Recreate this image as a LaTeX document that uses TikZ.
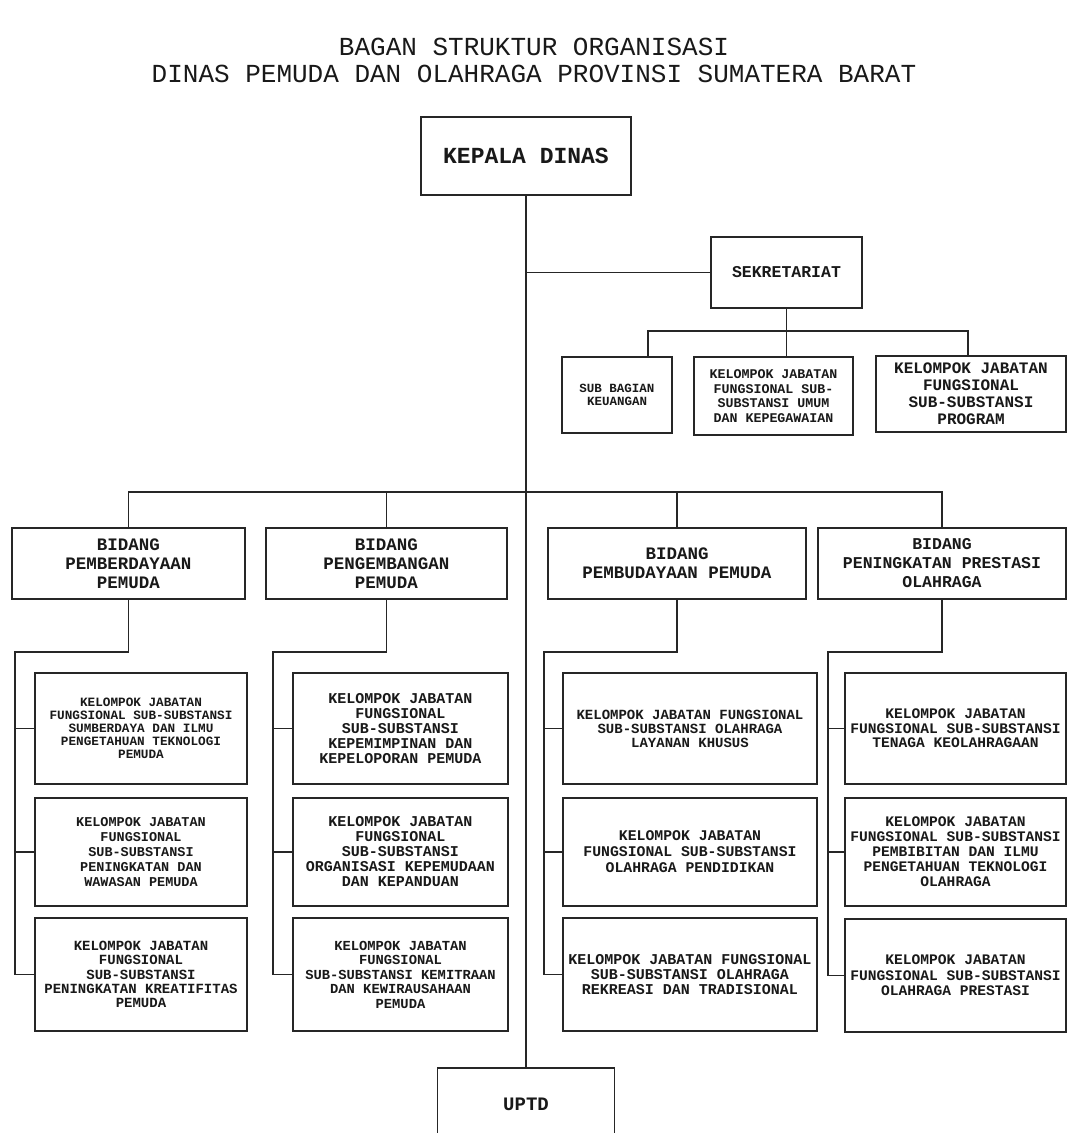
\documentclass[tikz,border=0pt]{standalone}
\usepackage{fontspec}
\setmainfont{Liberation Mono}
\newcommand\fz[2]{\fontsize{#1}{#2}\selectfont}
\newcommand\obox[6]{\node[box, minimum width=#3, minimum height=#4, font={#5\bfseries}] (#1) at (#2) {#6};}
\begin{document}
\begin{tikzpicture}[x=1pt,y=-1pt,
  box/.style={draw=black!85, line width=1.8pt, align=center, inner sep=0pt, text=black!90},
  wire/.style={draw=black!85, line width=1.8pt},
  ttl/.style={font={\fz{26}{28}}, text=black!90, inner sep=0pt}]
\path[use as bounding box, fill=white] (0,0) rectangle (1068,1133);
% title
\node[ttl] (t1) at (534,47) {BAGAN STRUKTUR ORGANISASI};
\node[ttl] (t2) at (534,74) {DINAS PEMUDA DAN OLAHRAGA PROVINSI SUMATERA BARAT};
% top
\obox{kepala}{526,156}{210}{78}{\fz{23}{25}}{KEPALA DINAS}
\obox{sek}{786.5,272.5}{151}{71}{\fz{16.5}{18}}{SEKRETARIAT}
\obox{keu}{617,395}{110}{76}{\fz{12.5}{13.5}}{SUB BAGIAN\\KEUANGAN}
\obox{umum}{773.5,396}{159}{78}{\fz{13.3}{14.5}}{KELOMPOK JABATAN\\FUNGSIONAL SUB-\\SUBSTANSI UMUM\\DAN KEPEGAWAIAN}
\obox{prog}{971,394}{190}{76}{\fz{16}{17}}{KELOMPOK JABATAN\\FUNGSIONAL\\SUB-SUBSTANSI\\PROGRAM}
% bidang
\obox{bd1}{128.5,563.5}{233}{71}{\fz{17.5}{19}}{BIDANG\\PEMBERDAYAAN\\PEMUDA}
\obox{bd2}{386.5,563.5}{241}{71}{\fz{17.5}{19}}{BIDANG\\PENGEMBANGAN\\PEMUDA}
\obox{bd3}{677,563.5}{258}{71}{\fz{17.5}{19}}{BIDANG\\PEMBUDAYAAN PEMUDA}
\obox{bd4}{942,563.5}{248}{71}{\fz{16.5}{19}}{BIDANG\\PENINGKATAN PRESTASI\\OLAHRAGA}
% column 1
\obox{c11}{141,728.5}{212}{111}{\fz{12.7}{13}}{KELOMPOK JABATAN\\FUNGSIONAL SUB-SUBSTANSI\\SUMBERDAYA DAN ILMU\\PENGETAHUAN TEKNOLOGI\\PEMUDA}
\obox{c12}{141,852}{212}{108}{\fz{13.5}{15}}{KELOMPOK JABATAN\\FUNGSIONAL\\SUB-SUBSTANSI\\PENINGKATAN DAN\\WAWASAN PEMUDA}
\obox{c13}{141,974.5}{212}{113}{\fz{14}{14.3}}{KELOMPOK JABATAN\\FUNGSIONAL\\SUB-SUBSTANSI\\PENINGKATAN KREATIFITAS\\PEMUDA}
% column 2
\obox{c21}{400.5,728.5}{215}{111}{\fz{15}{14.8}}{KELOMPOK JABATAN\\FUNGSIONAL\\SUB-SUBSTANSI\\KEPEMIMPINAN DAN\\KEPELOPORAN PEMUDA}
\obox{c22}{400.5,852}{215}{108}{\fz{15}{15}}{KELOMPOK JABATAN\\FUNGSIONAL\\SUB-SUBSTANSI\\ORGANISASI KEPEMUDAAN\\DAN KEPANDUAN}
\obox{c23}{400.5,974.5}{215}{113}{\fz{13.8}{14.5}}{KELOMPOK JABATAN\\FUNGSIONAL\\SUB-SUBSTANSI KEMITRAAN\\DAN KEWIRAUSAHAAN\\PEMUDA}
% column 3
\obox{c31}{690,728.5}{254}{111}{\fz{14}{14}}{KELOMPOK JABATAN FUNGSIONAL\\SUB-SUBSTANSI OLAHRAGA\\LAYANAN KHUSUS}
\obox{c32}{690,852}{254}{108}{\fz{14.8}{16}}{KELOMPOK JABATAN\\FUNGSIONAL SUB-SUBSTANSI\\OLAHRAGA PENDIDIKAN}
\obox{c33}{690,974.5}{254}{113}{\fz{15}{14.8}}{KELOMPOK JABATAN FUNGSIONAL\\SUB-SUBSTANSI OLAHRAGA\\REKREASI DAN TRADISIONAL}
% column 4
\obox{c41}{955.5,728.5}{221}{111}{\fz{14.6}{14.5}}{KELOMPOK JABATAN\\FUNGSIONAL SUB-SUBSTANSI\\TENAGA KEOLAHRAGAAN}
\obox{c42}{955.5,852}{221}{108}{\fz{14.6}{15}}{KELOMPOK JABATAN\\FUNGSIONAL SUB-SUBSTANSI\\PEMBIBITAN DAN ILMU\\PENGETAHUAN TEKNOLOGI\\OLAHRAGA}
\obox{c43}{955.5,975.5}{221}{113}{\fz{14.6}{15.5}}{KELOMPOK JABATAN\\FUNGSIONAL SUB-SUBSTANSI\\OLAHRAGA PRESTASI}
% uptd
\obox{uptd}{526,1104}{177}{72}{\fz{19}{20}}{UPTD}
% connectors
\draw[wire] (kepala.south) -- (uptd.north);
\draw[wire] (sek.west) -- (sek.west -| kepala.south);
\coordinate (sL) at (648,331);
\coordinate (sR) at (968,331);
\draw[wire] (sek.south) -- (sek.south |- sL);
\draw[wire] (keu.north -| sL) -- (sL) -- (sR) -- (prog.north -| sR);
\draw[wire] (umum.north -| sek.south) -- (sek.south |- sL);
\coordinate (bj) at (526,492);
\draw[wire] (bd1.north) -- (bd1.north |- bj) -- (bd4.north |- bj) -- (bd4.north);
\draw[wire] (bd2.north) -- (bd2.north |- bj);
\draw[wire] (bd3.north) -- (bd3.north |- bj);
% column branches
\coordinate (k1) at (15,652);
\coordinate (k2) at (273,652);
\coordinate (k3) at (544,652);
\coordinate (k4) at (828,652);
\draw[wire] (bd1.south) -- (bd1.south |- k1) -- (k1) -- (k1 |- c13.west) -- (c13.west);
\draw[wire] (k1 |- c11.west) -- (c11.west);
\draw[wire] (k1 |- c12.west) -- (c12.west);
\draw[wire] (bd2.south) -- (bd2.south |- k2) -- (k2) -- (k2 |- c23.west) -- (c23.west);
\draw[wire] (k2 |- c21.west) -- (c21.west);
\draw[wire] (k2 |- c22.west) -- (c22.west);
\draw[wire] (bd3.south) -- (bd3.south |- k3) -- (k3) -- (k3 |- c33.west) -- (c33.west);
\draw[wire] (k3 |- c31.west) -- (c31.west);
\draw[wire] (k3 |- c32.west) -- (c32.west);
\draw[wire] (bd4.south) -- (bd4.south |- k4) -- (k4) -- (k4 |- c43.west) -- (c43.west);
\draw[wire] (k4 |- c41.west) -- (c41.west);
\draw[wire] (k4 |- c42.west) -- (c42.west);
\end{tikzpicture}
\end{document}
